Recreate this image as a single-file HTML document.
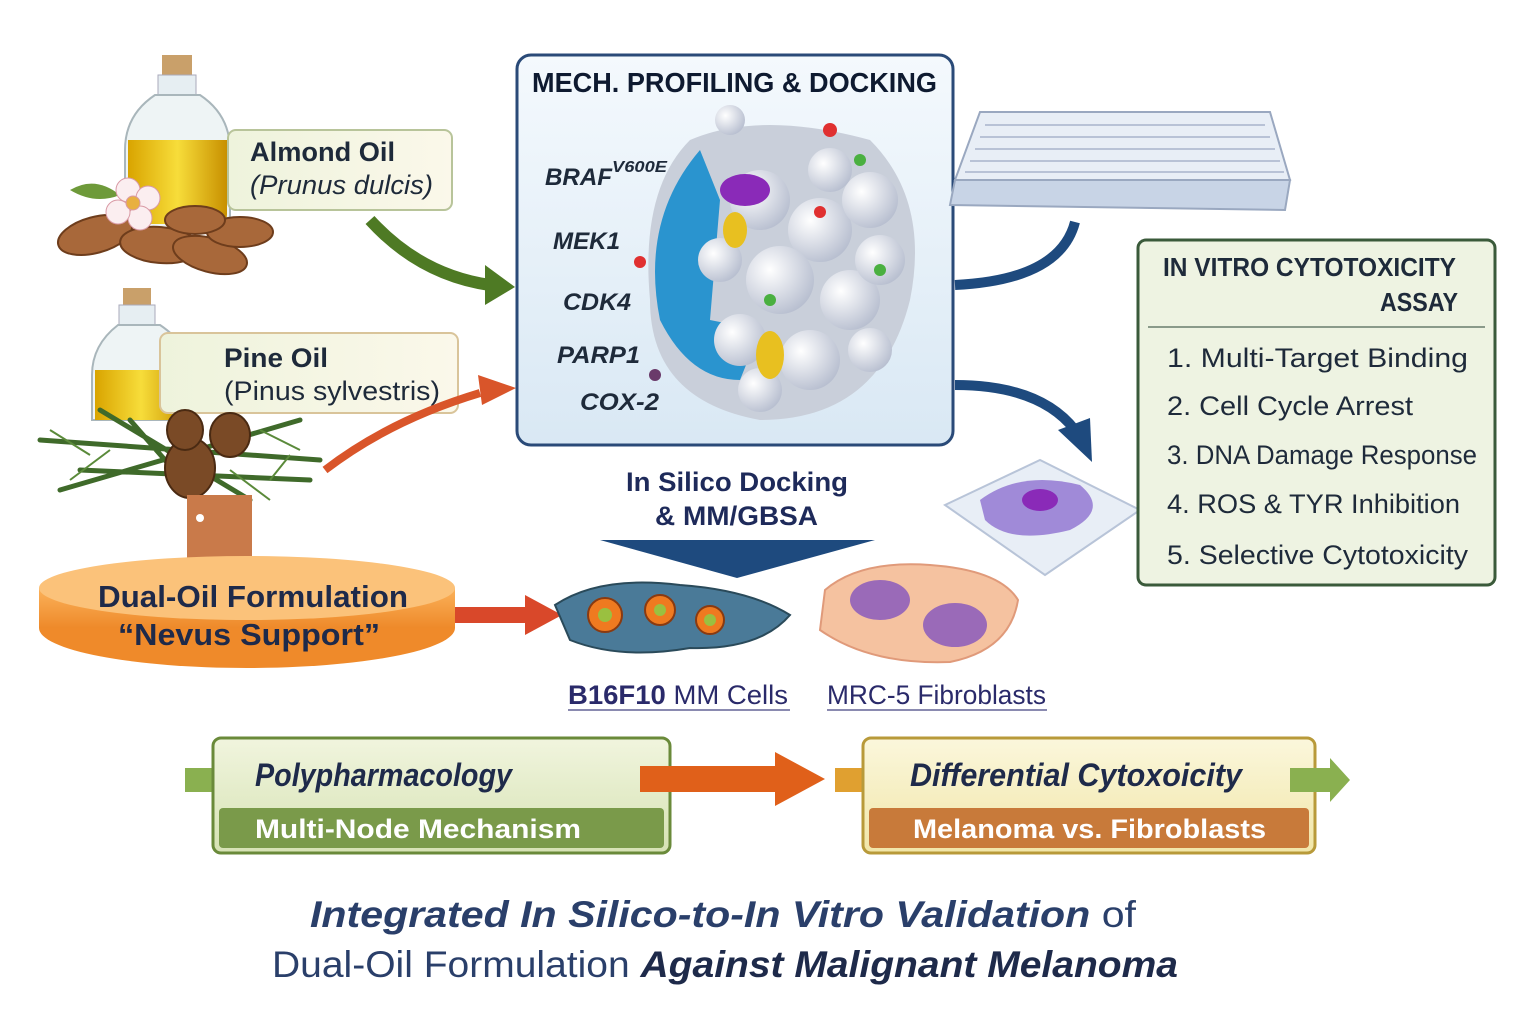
<!DOCTYPE html>
<html><head><meta charset="utf-8"><style>
body{margin:0;background:#fff}
svg{display:block}
text{font-family:"Liberation Sans",sans-serif}
</style></head><body>
<svg width="1536" height="1024" viewBox="0 0 1536 1024" xmlns="http://www.w3.org/2000/svg">
<defs>
<linearGradient id="oil" x1="0" x2="1"><stop offset="0" stop-color="#d9a400"/><stop offset=".5" stop-color="#f7dd3a"/><stop offset="1" stop-color="#c89000"/></linearGradient>
<linearGradient id="panel" x1="0" y1="0" x2="0" y2="1"><stop offset="0" stop-color="#f4f9fd"/><stop offset="1" stop-color="#d9e8f4"/></linearGradient>
<linearGradient id="lab" x1="0" x2="1"><stop offset="0" stop-color="#eef3dc"/><stop offset="1" stop-color="#fbf8ea"/></linearGradient>
<linearGradient id="orng" x1="0" y1="0" x2="0" y2="1"><stop offset="0" stop-color="#fbb25a"/><stop offset="1" stop-color="#ee8a2a"/></linearGradient>
<linearGradient id="b1" x1="0" y1="0" x2="0" y2="1"><stop offset="0" stop-color="#f1f5de"/><stop offset="1" stop-color="#d6e2b4"/></linearGradient>
<linearGradient id="b2" x1="0" y1="0" x2="0" y2="1"><stop offset="0" stop-color="#fbf7dc"/><stop offset="1" stop-color="#f1e6a8"/></linearGradient>
<radialGradient id="ball" cx=".35" cy=".35" r=".7"><stop offset="0" stop-color="#fff"/><stop offset="1" stop-color="#b8bfd0"/></radialGradient>
</defs>

<!-- Almond oil bottle -->
<rect x="162" y="55" width="30" height="22" fill="#c9a06a"/>
<rect x="158" y="75" width="38" height="22" fill="#e6eef2" stroke="#aab" />
<path d="M155 95 Q125 115 125 150 L125 215 Q125 228 140 228 L215 228 Q230 228 230 215 L230 150 Q230 115 200 95Z" fill="#eef4f5" stroke="#a9b6bb" stroke-width="2"/>
<path d="M128 140 L227 140 L227 214 Q227 224 215 224 L140 224 Q128 224 128 214Z" fill="url(#oil)"/>
<g fill="#a8683a" stroke="#6e3d1c" stroke-width="2">
<ellipse cx="95" cy="235" rx="38" ry="18" transform="rotate(-15 95 235)"/>
<ellipse cx="160" cy="245" rx="40" ry="18" transform="rotate(5 160 245)"/>
<ellipse cx="210" cy="255" rx="38" ry="17" transform="rotate(15 210 255)"/>
<ellipse cx="240" cy="232" rx="33" ry="15"/>
<ellipse cx="195" cy="220" rx="30" ry="14"/>
</g>
<path d="M70 190 Q95 175 120 195 Q95 205 70 190Z" fill="#6e9a3a"/>
<g fill="#fbeef0" stroke="#d99aa5"><circle cx="128" cy="190" r="12"/><circle cx="148" cy="198" r="12"/><circle cx="140" cy="218" r="12"/><circle cx="118" cy="212" r="12"/><circle cx="133" cy="203" r="7" fill="#e8b040"/></g>
<rect x="228" y="130" width="224" height="80" rx="8" fill="url(#lab)" stroke="#b8c49a" stroke-width="2"/>
<text x="250" y="161" font-size="27" font-weight="bold" fill="#1e2a3a" textLength="145" lengthAdjust="spacingAndGlyphs">Almond Oil</text>
<text x="250" y="194" font-size="27" font-style="italic" fill="#1e2a3a" textLength="183" lengthAdjust="spacingAndGlyphs">(Prunus dulcis)</text>
<path d="M370 220 Q420 275 490 285" fill="none" stroke="#4e7a24" stroke-width="12"/>
<polygon points="485,265 515,287 485,305" fill="#4e7a24"/>

<!-- Pine oil -->
<rect x="123" y="288" width="28" height="20" fill="#c9a06a"/>
<rect x="119" y="305" width="36" height="20" fill="#e6eef2" stroke="#aab"/>
<path d="M118 325 Q92 345 92 375 L92 420 L190 420 L190 375 Q190 345 160 325Z" fill="#eef4f5" stroke="#a9b6bb" stroke-width="2"/>
<path d="M95 370 L187 370 L187 420 L95 420Z" fill="url(#oil)"/>
<rect x="160" y="333" width="298" height="80" rx="8" fill="url(#lab)" stroke="#d9c49a" stroke-width="2"/>
<text x="224" y="367" font-size="27" font-weight="bold" fill="#1e2a3a" textLength="104" lengthAdjust="spacingAndGlyphs">Pine Oil</text>
<text x="224" y="400" font-size="27" fill="#1e2a3a" textLength="216" lengthAdjust="spacingAndGlyphs">(Pinus sylvestris)</text>
<path d="M325 470 Q390 420 480 393" fill="none" stroke="#d9552a" stroke-width="8"/>
<polygon points="478,375 516,388 482,405" fill="#d9552a"/>
<g stroke="#3f6a2a" stroke-width="5" stroke-linecap="round">
<path d="M40 440 L320 460 M60 490 L300 420 M100 410 L250 500 M80 470 L310 480 M130 420 L200 500"/>
</g>
<g stroke="#5a8a3a" stroke-width="2"><path d="M50 430 L90 455 M70 480 L110 450 M260 430 L300 450 M270 480 L290 455 M230 470 L270 500"/></g>
<g fill="#7a4a26" stroke="#4a2a12" stroke-width="2"><ellipse cx="190" cy="468" rx="25" ry="30"/><ellipse cx="230" cy="435" rx="20" ry="22"/><ellipse cx="185" cy="430" rx="18" ry="20"/></g>
<rect x="187" y="495" width="65" height="70" fill="#c97a4a"/>
<circle cx="200" cy="518" r="4" fill="#fff"/>
<!-- Dual oil -->
<ellipse cx="247" cy="628" rx="208" ry="40" fill="#ef8a2a"/>
<rect x="39" y="588" width="416" height="40" fill="url(#orng)"/>
<ellipse cx="247" cy="588" rx="208" ry="32" fill="#fbc27a"/>
<text x="98" y="607" font-size="31" font-weight="bold" fill="#1e2a4a" textLength="310" lengthAdjust="spacingAndGlyphs">Dual-Oil Formulation</text>
<text x="118" y="645" font-size="31" font-weight="bold" fill="#1e2a4a" textLength="262" lengthAdjust="spacingAndGlyphs">“Nevus Support”</text>
<rect x="455" y="607" width="75" height="16" fill="#d9482a"/>
<polygon points="525,595 562,615 525,635" fill="#d9482a"/>

<!-- Center panel -->
<rect x="517" y="55" width="436" height="390" rx="14" fill="url(#panel)" stroke="#2a4a78" stroke-width="3"/>
<text x="532" y="92" font-size="28" font-weight="bold" fill="#0e1a30" textLength="405" lengthAdjust="spacingAndGlyphs">MECH. PROFILING &amp; DOCKING</text>
<path d="M690 140 Q760 110 870 140 Q930 200 910 300 Q880 420 760 420 Q650 400 650 300 Q640 190 690 140Z" fill="#c9cfda"/>
<path d="M700 150 Q640 220 660 320 Q690 380 740 380 L760 330 L710 320 L720 200Z" fill="#2a94cf"/>
<g fill="url(#ball)">
<circle cx="760" cy="200" r="30"/><circle cx="820" cy="230" r="32"/><circle cx="870" cy="200" r="28"/><circle cx="780" cy="280" r="34"/><circle cx="850" cy="300" r="30"/><circle cx="740" cy="340" r="26"/><circle cx="810" cy="360" r="30"/><circle cx="880" cy="260" r="25"/><circle cx="720" cy="260" r="22"/><circle cx="830" cy="170" r="22"/><circle cx="760" cy="390" r="22"/><circle cx="870" cy="350" r="22"/><circle cx="730" cy="120" r="15"/>
</g>
<ellipse cx="745" cy="190" rx="25" ry="16" fill="#8a2ab8"/>
<ellipse cx="735" cy="230" rx="12" ry="18" fill="#e8c020"/>
<ellipse cx="770" cy="355" rx="14" ry="24" fill="#e8c020"/>
<g fill="#e03030"><circle cx="830" cy="130" r="7"/><circle cx="640" cy="262" r="6"/><circle cx="820" cy="212" r="6"/></g>
<g fill="#4ab040"><circle cx="860" cy="160" r="6"/><circle cx="880" cy="270" r="6"/><circle cx="770" cy="300" r="6"/></g>
<circle cx="655" cy="375" r="6" fill="#6a3a6a"/>
<g font-size="24" font-weight="bold" font-style="italic" fill="#1e2a3a">
<text x="545" y="185" textLength="67" lengthAdjust="spacingAndGlyphs">BRAF</text>
<text x="612" y="172" font-size="16" textLength="55" lengthAdjust="spacingAndGlyphs">V600E</text>
<text x="553" y="249" textLength="67" lengthAdjust="spacingAndGlyphs">MEK1</text>
<text x="563" y="310" textLength="68" lengthAdjust="spacingAndGlyphs">CDK4</text>
<text x="557" y="363" textLength="83" lengthAdjust="spacingAndGlyphs">PARP1</text>
<text x="580" y="410" textLength="79" lengthAdjust="spacingAndGlyphs">COX-2</text>
</g>
<text x="626" y="491" font-size="27" font-weight="bold" fill="#1e2a5a" textLength="222" lengthAdjust="spacingAndGlyphs">In Silico Docking</text>
<text x="655" y="525" font-size="27" font-weight="bold" fill="#1e2a5a" textLength="163" lengthAdjust="spacingAndGlyphs">&amp; MM/GBSA</text>
<polygon points="600,540 875,540 737,578" fill="#1e4a7e"/>

<!-- cells -->
<path d="M555 605 Q600 575 680 585 Q750 590 790 615 Q760 650 690 648 Q620 660 570 640Z" fill="#4a7a98" stroke="#2a4a5a" stroke-width="2"/>
<g fill="#ef7a20" stroke="#8a3a10" stroke-width="2"><circle cx="605" cy="615" r="17"/><circle cx="660" cy="610" r="15"/><circle cx="710" cy="620" r="14"/></g>
<g fill="#9ac040"><circle cx="605" cy="615" r="7"/><circle cx="660" cy="610" r="6"/><circle cx="710" cy="620" r="6"/></g>
<path d="M825 590 Q860 560 930 565 Q1000 570 1018 600 Q1010 650 950 662 Q870 665 820 630Z" fill="#f5c2a0" stroke="#e09a7a" stroke-width="2"/>
<ellipse cx="880" cy="600" rx="30" ry="20" fill="#9a6ab8"/><ellipse cx="955" cy="625" rx="32" ry="22" fill="#9a6ab8"/>
<text x="568" y="704" font-size="27" fill="#2a2a6a" textLength="220" lengthAdjust="spacingAndGlyphs"><tspan font-weight="bold">B16F10</tspan> MM Cells</text>
<line x1="568" y1="710" x2="790" y2="710" stroke="#8a8ab0" stroke-width="2"/>
<text x="827" y="704" font-size="27" fill="#2a2a6a" textLength="219" lengthAdjust="spacingAndGlyphs">MRC-5 Fibroblasts</text>
<line x1="827" y1="710" x2="1047" y2="710" stroke="#8a8ab0" stroke-width="2"/>

<!-- well plate -->
<polygon points="980,112 1270,112 1290,180 955,180" fill="#e8eef6" stroke="#9aa8c0" stroke-width="2"/>
<polygon points="955,180 1290,180 1285,210 950,205" fill="#c8d4e6" stroke="#9aa8c0" stroke-width="2"/>
<g fill="none" stroke="#a8b4cc" stroke-width="1.5">
<path d="M985 125 H1265 M980 137 H1270 M975 149 H1275 M970 161 H1280 M965 172 H1284"/>
</g>
<path d="M955 285 Q1060 280 1075 222" fill="none" stroke="#1e4a7e" stroke-width="10"/>
<path d="M955 385 Q1040 385 1075 430" fill="none" stroke="#1e4a7e" stroke-width="10"/>
<polygon points="1058,430 1092,462 1090,418" fill="#1e4a7e"/>
<polygon points="945,505 1040,460 1140,510 1045,575" fill="#e8eef6" stroke="#b8c4d8" stroke-width="2"/>
<path d="M980 500 Q1020 470 1080 485 Q1110 510 1070 530 Q1010 545 985 520Z" fill="#a08ad8"/>
<ellipse cx="1040" cy="500" rx="18" ry="11" fill="#8a2ab8"/>

<!-- right box -->
<rect x="1138" y="240" width="357" height="345" rx="8" fill="#eef3e2" stroke="#3a5a3a" stroke-width="3"/>
<text x="1163" y="276" font-size="26" font-weight="bold" fill="#1e2a3a" textLength="293" lengthAdjust="spacingAndGlyphs">IN VITRO CYTOTOXICITY</text>
<text x="1380" y="311" font-size="26" font-weight="bold" fill="#1e2a3a" textLength="78" lengthAdjust="spacingAndGlyphs">ASSAY</text>
<line x1="1148" y1="327" x2="1485" y2="327" stroke="#8a9a8a" stroke-width="2"/>
<g font-size="27" fill="#1e2a3a">
<text x="1167" y="367" textLength="301" lengthAdjust="spacingAndGlyphs">1.  Multi-Target Binding</text>
<text x="1167" y="415" textLength="246" lengthAdjust="spacingAndGlyphs">2.  Cell Cycle Arrest</text>
<text x="1167" y="464" textLength="310" lengthAdjust="spacingAndGlyphs">3.  DNA Damage Response</text>
<text x="1167" y="513" textLength="293" lengthAdjust="spacingAndGlyphs">4.  ROS &amp; TYR Inhibition</text>
<text x="1167" y="564" textLength="301" lengthAdjust="spacingAndGlyphs">5.  Selective Cytotoxicity</text>
</g>

<!-- bottom -->
<polygon points="185,768 230,768 230,758 248,780 230,802 230,792 185,792" fill="#8ab050"/>
<rect x="213" y="738" width="457" height="115" rx="8" fill="url(#b1)" stroke="#6a8a3a" stroke-width="3"/>
<text x="255" y="786" font-size="32" font-weight="bold" font-style="italic" fill="#1e2a4a" textLength="257" lengthAdjust="spacingAndGlyphs">Polypharmacology</text>
<rect x="219" y="808" width="445" height="40" rx="4" fill="#7a9a4a"/>
<text x="255" y="838" font-size="27" font-weight="bold" fill="#fff" textLength="326" lengthAdjust="spacingAndGlyphs">Multi-Node Mechanism</text>
<rect x="640" y="766" width="140" height="26" fill="#e0601a"/>
<polygon points="775,752 825,779 775,806" fill="#e0601a"/>
<polygon points="835,768 880,768 880,758 898,780 880,802 880,792 835,792" fill="#e0a030"/>
<rect x="863" y="738" width="452" height="115" rx="8" fill="url(#b2)" stroke="#b89a3a" stroke-width="3"/>
<text x="910" y="786" font-size="32" font-weight="bold" font-style="italic" fill="#1e2a4a" textLength="332" lengthAdjust="spacingAndGlyphs">Differential Cytoxoicity</text>
<rect x="869" y="808" width="440" height="40" rx="4" fill="#c87a3a"/>
<text x="913" y="838" font-size="27" font-weight="bold" fill="#fff" textLength="353" lengthAdjust="spacingAndGlyphs">Melanoma vs. Fibroblasts</text>
<polygon points="1290,768 1330,768 1330,758 1350,780 1330,802 1330,792 1290,792" fill="#8ab050"/>

<text x="310" y="927" font-size="37" fill="#2a3f6a" textLength="826" lengthAdjust="spacingAndGlyphs"><tspan font-weight="bold" font-style="italic">Integrated In Silico-to-In Vitro Validation</tspan> of</text>
<text x="272" y="977" font-size="37" fill="#2a3f6a" textLength="906" lengthAdjust="spacingAndGlyphs">Dual-Oil Formulation <tspan font-weight="bold" font-style="italic" fill="#1e2a4a">Against Malignant Melanoma</tspan></text>
</svg>
</body></html>
